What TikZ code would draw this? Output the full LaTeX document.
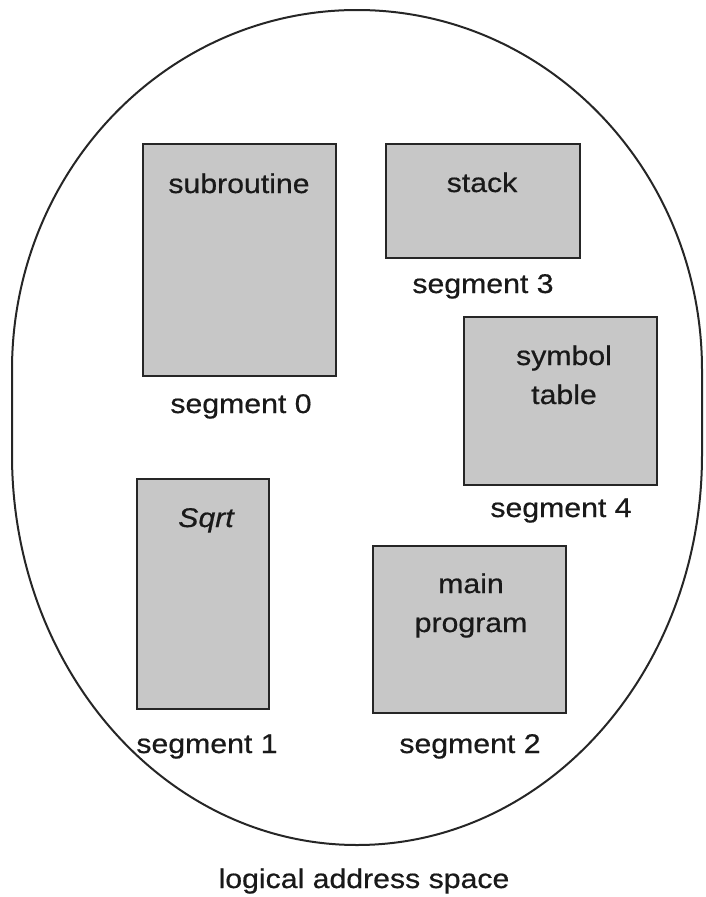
\documentclass[tikz,border=0pt]{standalone}
\usepackage{fontspec}
\setmainfont[FakeStretch=1.12,FakeBold=0.6]{Liberation Sans}
\begin{document}
\begin{tikzpicture}[x=1pt,y=-1pt,
  seg/.style={draw=black!85,line width=2.2pt,fill=black!22,inner sep=0pt,anchor=north west},
  txt/.style={text=black!90,font=\fontsize{27}{32}\selectfont,anchor=base,inner sep=0pt}]
  \useasboundingbox (0,0) rectangle (706,897);
  % the outline of the address space: two half-ellipses joined by short straight sides
  \draw[line width=2pt,black!85]
    (12,370) arc[start angle=180,end angle=0,x radius=345,y radius=-360]
    -- (702,455) arc[start angle=0,end angle=-180,x radius=345,y radius=-390]
    -- cycle;
  % segments
  \node[seg,minimum width=193,minimum height=232] (sub) at (142,143) {};
  \node[seg,minimum width=194,minimum height=114] (stk) at (385,143) {};
  \node[seg,minimum width=193,minimum height=168] (sym) at (463,316) {};
  \node[seg,minimum width=132,minimum height=230] (sqr) at (136,478) {};
  \node[seg,minimum width=193,minimum height=167] (mpr) at (372,545) {};
  % segment contents
  \node[txt] (tsub) at (239,193) {subroutine};
  \node[txt] (tstk) at (482,192) {stack};
  \node[txt] (tsym1) at (564,365) {symbol};
  \node[txt] (tsym2) at (564,404) {table};
  \node[txt] (tsqr) at (206,527) {\itshape Sqrt};
  \node[txt] (tmpr1) at (471,593) {main};
  \node[txt] (tmpr2) at (471,632) {program};
  % segment captions
  \node[txt] (l0) at (241,413) {segment 0};
  \node[txt] (l1) at (207,753) {segment 1};
  \node[txt] (l2) at (470,753) {segment 2};
  \node[txt] (l3) at (483,293) {segment 3};
  \node[txt] (l4) at (561,517) {segment 4};
  \node[txt] (cap) at (364,888) {logical address space};
\end{tikzpicture}
\end{document}
